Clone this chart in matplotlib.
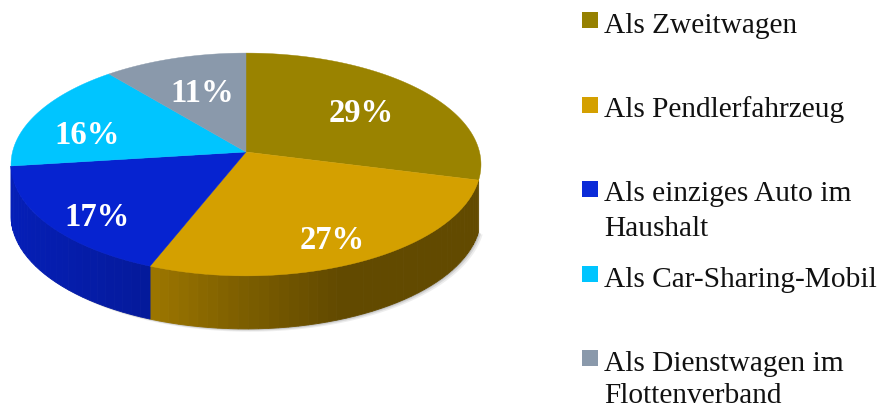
import numpy as np
import matplotlib
matplotlib.use("Agg")
import matplotlib.pyplot as plt
from matplotlib.patches import Polygon, Rectangle

categories = ["Als Zweitwagen", "Als Pendlerfahrzeug", "Als einziges Auto im\nHaushalt",
              "Als Car-Sharing-Mobil", "Als Dienstwagen im\nFlottenverband"]
values = [29, 27, 17, 16, 11]
colors = ["#9A8300", "#D4A000", "#0623D0", "#00C5FF", "#8A99AB"]
legend_colors = ["#958000", "#D4A000", "#0B2BD8", "#00C5FF", "#8A99AB"]
value_label_xy = [(361, 113.5), (332, 240.5), (97, 217.5), (87, 135.5), (202, 93.5)]
legend_rows_y = [20.5, 105.5, 190, 274.5, 359]
legend_text_y = [33, 117, 201, 287, 371]
legend_line_gap = [0, 0, 35, 0, 32]

CX, CY, R, A, B, DEPTH = 246, 153, 233.5, 110, 0.112, 51

def project(theta_deg, drop=0.0):
    t = np.radians(np.asarray(theta_deg, dtype=float))
    u, v = np.sin(t), -np.cos(t)
    d = 1 - B * v
    return CX + R * u / d, CY + A * v / d + drop * (1 + 0.04 * v)

def shade(x):
    return np.interp(x, [11, 150, 240, 340, 482], [0.88, 0.74, 0.59, 0.46, 0.46])

def rgb(c):
    return np.array(matplotlib.colors.to_rgb(c))

fig = plt.figure(figsize=(8.8, 4.1), dpi=100)
ax = fig.add_axes([0, 0, 1, 1])
ax.set_xlim(0, 880)
ax.set_ylim(410, 0)
ax.axis("off")

bounds = np.concatenate([[0], np.cumsum(values)]) / sum(values) * 360
# the rim is drawn only for the slices that face the viewer
T0 = bounds[1]
T1 = bounds[3]

# soft shadow behind the rim
th = np.linspace(T0, T1, 200)
xs, ys = project(th, DEPTH)
for off, al in [(4, 0.10), (2.5, 0.15), (1.2, 0.2)]:
    ax.add_patch(Polygon(np.c_[xs + off, ys + off * 0.7], closed=True, fc="#555555",
                         ec="none", alpha=al, zorder=1))

# side wall
for i, col in enumerate(colors):
    a, b = max(bounds[i], T0), min(bounds[i + 1], T1)
    if b <= a:
        continue
    edges = np.linspace(a, b, max(2, int((b - a) / 2.2) + 1))
    base = rgb(col)
    for e0, e1 in zip(edges[:-1], edges[1:]):
        seg = np.linspace(e0, e1, 5)
        x0, y0 = project(seg)
        x1, y1 = project(seg, DEPTH)
        f = shade(x0.mean())
        c = tuple(base * f)
        ax.add_patch(Polygon(np.r_[np.c_[x0, y0], np.c_[x1, y1][::-1]], closed=True,
                             fc=c, ec=c, lw=0.6, zorder=2))

# top face
for i, col in enumerate(colors):
    seg = np.linspace(bounds[i], bounds[i + 1], 200)
    x, y = project(seg)
    ax.add_patch(Polygon(np.r_[[[CX, CY]], np.c_[x, y]], closed=True, fc=col, ec=col,
                         lw=0.3, zorder=3))

for v, (lx, ly) in zip(values, value_label_xy):
    ax.text(lx, ly, f"{v}%", color="white", fontsize=23.5, fontweight="bold",
            family="Liberation Serif", ha="center", va="center", zorder=4)

for cat, col, ry, ty, gap in zip(categories, legend_colors, legend_rows_y, legend_text_y, legend_line_gap):
    ax.add_patch(Rectangle((582, ry - 8), 16, 16, fc=col, ec="none", zorder=4))
    for k, line in enumerate(cat.split("\n")):
        ax.text(604, ty + gap * k, line, color="#111111", fontsize=21.2,
                family="Liberation Serif", ha="left", va="baseline", zorder=4)

fig.savefig("out.png", dpi=100, facecolor="white")
